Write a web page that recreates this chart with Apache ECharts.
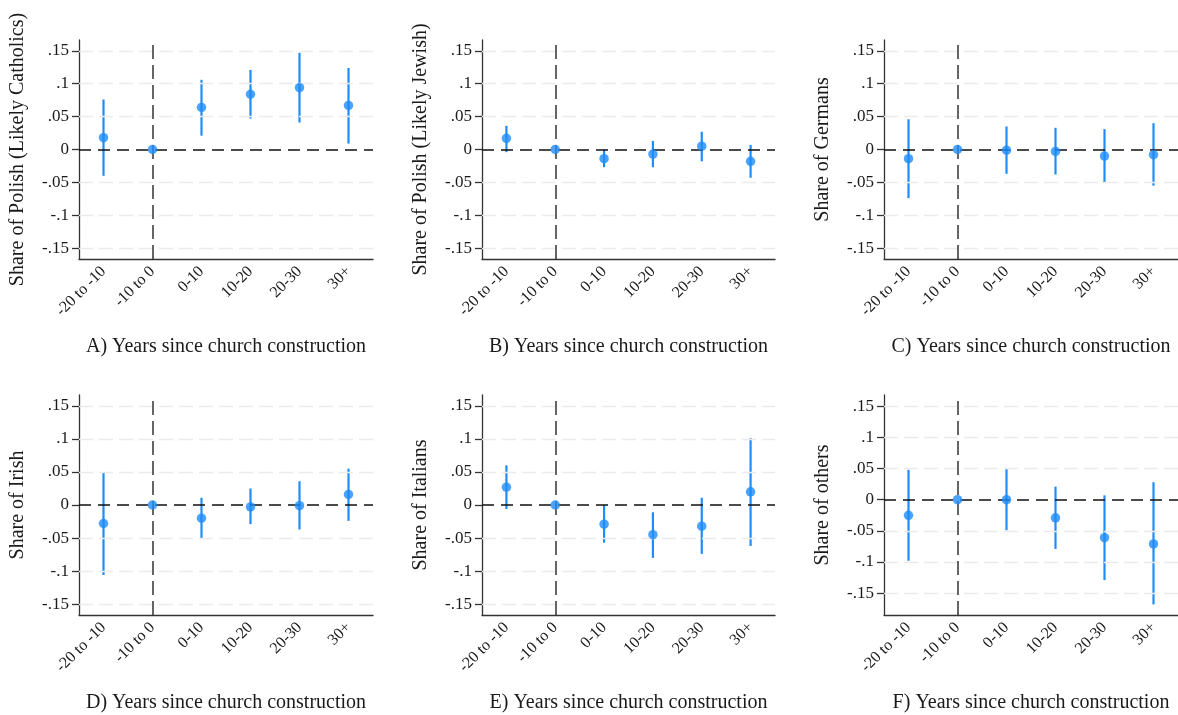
<!DOCTYPE html>
<html><head><meta charset="utf-8">
<script src="https://cdn.jsdelivr.net/npm/echarts@6/dist/echarts.min.js"></script>
<style>html,body{margin:0;padding:0;background:#fff}#c{width:1178px;height:715px}</style>
</head><body><div id="c"></div>
<script>
const categories = ['-20 to -10', '-10 to 0', '0-10', '10-20', '20-30', '30+'];
const yTickValues = [-0.15, -0.1, -0.05, 0, 0.05, 0.1, 0.15];
const yTickLabels = ['-.15', '-.1', '-.05', '0', '.05', '.1', '.15'];
const yTitles = ['Share of Polish (Likely Catholics)', 'Share of Polish (Likely Jewish)', 'Share of Germans',
                 'Share of Irish', 'Share of Italians', 'Share of others'];
const xTitles = ['A) Years since church construction', 'B) Years since church construction', 'C) Years since church construction',
                 'D) Years since church construction', 'E) Years since church construction', 'F) Years since church construction'];
const referenceCategory = '-10 to 0';

const catholicEst = [0.018, 0, 0.064, 0.084, 0.094, 0.067];
const catholicLo  = [-0.040, null, 0.021, 0.047, 0.041, 0.009];
const catholicHi  = [0.076, null, 0.106, 0.121, 0.147, 0.124];

const jewishEst = [0.017, 0, -0.014, -0.007, 0.005, -0.018];
const jewishLo  = [-0.004, null, -0.027, -0.027, -0.018, -0.043];
const jewishHi  = [0.036, null, 0.000, 0.013, 0.027, 0.007];

const germanEst = [-0.014, 0, -0.001, -0.003, -0.010, -0.008];
const germanLo  = [-0.074, null, -0.037, -0.038, -0.050, -0.055];
const germanHi  = [0.046, null, 0.035, 0.033, 0.031, 0.040];

const irishEst = [-0.028, 0, -0.020, -0.003, -0.001, 0.016];
const irishLo  = [-0.106, null, -0.051, -0.029, -0.037, -0.024];
const irishHi  = [0.049, null, 0.011, 0.025, 0.036, 0.055];

const italianEst = [0.027, 0, -0.029, -0.045, -0.032, 0.020];
const italianLo  = [-0.006, null, -0.057, -0.080, -0.074, -0.062];
const italianHi  = [0.060, null, 0.000, -0.011, 0.011, 0.101];

const otherEst = [-0.025, 0, 0, -0.029, -0.061, -0.071];
const otherLo  = [-0.098, null, -0.049, -0.079, -0.129, -0.168];
const otherHi  = [0.048, null, 0.049, 0.021, 0.007, 0.028];

const panels = [
  [catholicEst, catholicLo, catholicHi],
  [jewishEst, jewishLo, jewishHi],
  [germanEst, germanLo, germanHi],
  [irishEst, irishLo, irishHi],
  [italianEst, italianLo, italianHi],
  [otherEst, otherLo, otherHi]
];
const yRanges = [[-0.1665, 0.1665], [-0.1665, 0.1665], [-0.1665, 0.1665], [-0.1665, 0.1665], [-0.1665, 0.1665], [-0.185, 0.168]];

const FONT = 'Liberation Serif';
const BLUE = '#1e8cfa';
const gridPos = [
  {left: 79, top: 40, width: 294, height: 219},
  {left: 482, top: 40, width: 293, height: 219},
  {left: 884, top: 40, width: 294, height: 219},
  {left: 79, top: 395, width: 294, height: 220},
  {left: 482, top: 395, width: 293, height: 220},
  {left: 884, top: 395, width: 294, height: 220}
];

function fmtTick(v) {
  for (let i = 0; i < yTickValues.length; i++) if (Math.abs(yTickValues[i] - v) < 1e-9) return yTickLabels[i];
  return '';
}

const grid = [], xAxis = [], yAxis = [], series = [];
panels.forEach((p, i) => {
  const [est, lo, hi] = p;
  grid.push(gridPos[i]);
  xAxis.push({
    type: 'category', gridIndex: i, data: categories, boundaryGap: true,
    name: xTitles[i], nameLocation: 'middle', nameGap: 78,
    nameTextStyle: {fontFamily: FONT, fontSize: 20, color: '#1a1a1a'},
    axisLine: {onZero: false, lineStyle: {color: '#333', width: 1.3}},
    axisTick: {alignWithLabel: true, length: 6, lineStyle: {color: '#333', width: 1.3}},
    axisLabel: {rotate: 45, margin: 10, fontFamily: FONT, fontSize: 16, color: '#1a1a1a', interval: 0},
    splitLine: {show: false}
  });
  yAxis.push({
    type: 'value', gridIndex: i, min: yRanges[i][0], max: yRanges[i][1],
    name: yTitles[i], nameLocation: 'middle', nameGap: 51,
    nameTextStyle: {fontFamily: FONT, fontSize: 20, color: '#1a1a1a'},
    axisLine: {show: true, onZero: false, lineStyle: {color: '#333', width: 1.3}},
    axisTick: {show: true, length: 7, customValues: yTickValues, lineStyle: {color: '#333', width: 1.3}},
    axisLabel: {customValues: yTickValues, formatter: fmtTick, margin: 10, fontFamily: FONT, fontSize: 17, color: '#1a1a1a'},
    splitLine: {show: false}
  });
  const ciData = [];
  categories.forEach((c, k) => { if (lo[k] != null) ciData.push([k, lo[k], hi[k]]); });
  const mlData = yTickValues.filter(v => v !== 0).map(v => ({yAxis: v, lineStyle: {color: '#ebebeb', width: 1.3, type: [14, 6]}}));
  mlData.push({yAxis: 0, lineStyle: {color: '#111', width: 1.5, type: [12, 7]}});
  mlData.push({xAxis: referenceCategory, lineStyle: {color: '#333', width: 1.5, type: [14, 6]}});
  series.push({
    type: 'line', xAxisIndex: i, yAxisIndex: i, z: 1, data: [], silent: true,
    markLine: {silent: true, symbol: 'none', label: {show: false}, animation: false, data: mlData}
  });
  series.push({
    type: 'custom', xAxisIndex: i, yAxisIndex: i, z: 3, data: ciData,
    encode: {x: 0, y: [1, 2]},
    renderItem: function (params, api) {
      const x = api.value(0);
      const a = api.coord([x, api.value(1)]);
      const b = api.coord([x, api.value(2)]);
      return {type: 'line', shape: {x1: a[0], y1: a[1], x2: b[0], y2: b[1]}, style: {stroke: BLUE, lineWidth: 2.2}};
    }
  });
  series.push({
    type: 'scatter', xAxisIndex: i, yAxisIndex: i, z: 5, data: est,
    symbol: 'circle', symbolSize: 9.5, itemStyle: {color: BLUE}
  });
});

const chart = echarts.init(document.getElementById('c'), null, {renderer: 'canvas'});
chart.setOption({animation: false, backgroundColor: '#fff', grid, xAxis, yAxis, series});
</script>
</body></html>
